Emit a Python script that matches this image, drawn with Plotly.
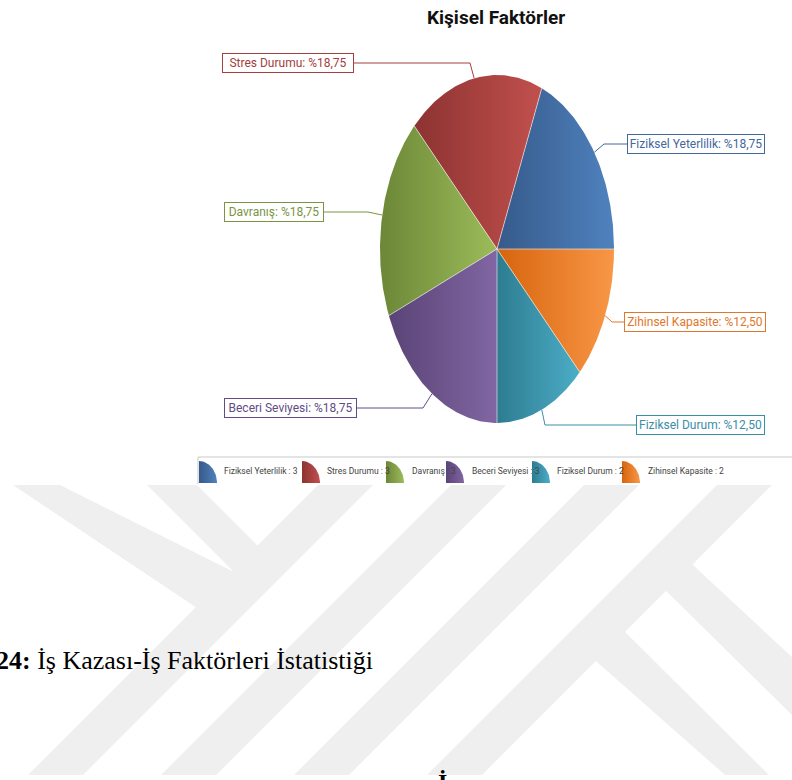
import numpy as np
import plotly.graph_objects as go

# ---- data -------------------------------------------------------------
labels = ["Fiziksel Yeterlilik", "Stres Durumu", "Davranış",
          "Beceri Seviyesi", "Fiziksel Durum", "Zihinsel Kapasite"]
values = [3, 3, 3, 3, 2, 2]

title_text = "Kişisel Faktörler"
caption_text = "<b>24:</b> İş Kazası-İş Faktörleri İstatistiği"

# ---- styling ----------------------------------------------------------
dark = ["#365a8a", "#8c3331", "#6c8737", "#5a4476", "#2d7c90", "#d8640d"]
light = ["#4f82be", "#c1504d", "#9cbc5a", "#8166a3", "#4cadc7", "#f89747"]
text_col = ["#43689b", "#a3403d", "#7a9444", "#634c86", "#3a8ea5", "#e0772a"]

SANS = "Roboto, Liberation Sans, sans-serif"
SERIF = "Liberation Serif, Times New Roman, serif"

W, H = 792, 780
CX, CY, RX, RY = 497, 249, 117, 174          # pie centre and radii (px)

# label layout: (elbow x, elbow y, box edge x, box width, side)
label_layout = [
    (604, 144, 627, 138, "right"),
    (470, 63, 354, 132, "left"),
    (368, 212, 324, 100, "left"),
    (423, 408, 357, 133, "left"),
    (545, 425, 636, 129, "right"),
    (612, 322, 624, 142, "right"),
]

# legend layout: icon left x, text left x
legend_icon_x = [199, 302, 386, 446, 532, 622]
legend_text_x = [222, 325, 410, 470, 555, 646]


def ellipse_pt(deg, cx=CX, cy=CY, rx=RX, ry=RY):
    t = np.radians(deg)
    return cx + rx * np.cos(t), cy - ry * np.sin(t)


fig = go.Figure()

# ---- watermark (light background logo) --------------------------------
WM = "#efefef"
TOP, BOT = 485, 775
wm_polys = []
for xl in [318, 451, 584, 717]:                 # long diagonal stripes
    d = BOT - TOP
    wm_polys.append([(xl, TOP), (xl + 55, TOP), (xl + 55 - d, BOT), (xl - d, BOT)])
wm_polys.append([(13, TOP), (60, TOP), (250, 580), (200, 610)])        # Y arm outer
wm_polys.append([(147, TOP), (197, TOP), (270, 558), (240, 578)])      # Y arm inner
wm_polys.append([(680, 553), (792, 657), (792, 715), (650, 575)])      # K upper arm
wm_polys.append([(612, 619), (769, BOT), (725, BOT), (580, 647)])      # K lower arm
for poly in wm_polys:
    path = "M " + " L ".join(f"{x},{y}" for x, y in poly) + " Z"
    fig.add_shape(type="path", path=path, xref="x", yref="y",
                  fillcolor=WM, line=dict(width=0), layer="below")

# ---- pie slices (elliptical) -------------------------------------------
total = float(sum(values))
bounds = np.concatenate([[0.0], np.cumsum(values)]) / total * 360.0

for i, name in enumerate(labels):
    a0, a1 = bounds[i], bounds[i + 1]
    th = np.linspace(a0, a1, 90)
    px, py = ellipse_pt(th)
    xs = np.concatenate([[CX], px, [CX]])
    ys = np.concatenate([[CY], py, [CY]])
    fig.add_trace(go.Scatter(
        x=xs, y=ys, mode="lines", fill="toself", line=dict(width=0),
        fillgradient=dict(type="horizontal",
                          colorscale=[[0, dark[i]], [1, light[i]]]),
        hoverinfo="text", text=f"{name}: {values[i]}", showlegend=False))

# slice separators
for a in bounds[:-1]:
    ex, ey = ellipse_pt(a)
    fig.add_trace(go.Scatter(x=[CX, ex], y=[CY, ey], mode="lines",
                             line=dict(color="rgba(255,255,255,0.55)", width=1),
                             hoverinfo="skip", showlegend=False))

# ---- leader lines and labels ------------------------------------------
for i, name in enumerate(labels):
    mid = (bounds[i] + bounds[i + 1]) / 2
    sx, sy = ellipse_pt(mid)
    ex, ey, bx, bw, side = label_layout[i]
    fig.add_trace(go.Scatter(x=[sx, ex, bx], y=[sy, ey, ey], mode="lines",
                             line=dict(color=text_col[i], width=1),
                             hoverinfo="skip", showlegend=False))
    pct = values[i] / total * 100
    txt = f"{name}: %{pct:.2f}".replace(".", ",")
    fig.add_annotation(x=bx, y=ey, xref="x", yref="y", text=txt,
                       showarrow=False,
                       xanchor="left" if side == "right" else "right",
                       yanchor="middle", width=bw - 6, align="center",
                       bgcolor="white", bordercolor=text_col[i],
                       borderwidth=1, borderpad=2,
                       font=dict(family=SANS, size=12, color=text_col[i]))

# ---- title ------------------------------------------------------------
fig.add_annotation(x=496, y=17, xref="x", yref="y", text=f"<b>{title_text}</b>",
                   showarrow=False, xanchor="center", yanchor="middle",
                   font=dict(family=SANS, size=19, color="#111111"))

# ---- legend strip -----------------------------------------------------
fig.add_shape(type="line", x0=198, x1=792, y0=457, y1=457, xref="x", yref="y",
              line=dict(color="#c9c9c9", width=1))
fig.add_shape(type="line", x0=198, x1=198, y0=457, y1=484, xref="x", yref="y",
              line=dict(color="#c9c9c9", width=1))
for i, name in enumerate(labels):
    ix = legend_icon_x[i]
    th = np.linspace(0, 90, 30)
    qx, qy = ellipse_pt(th, cx=ix, cy=483, rx=18, ry=22)
    fig.add_trace(go.Scatter(
        x=np.concatenate([[ix], qx, [ix]]), y=np.concatenate([[483], qy, [483]]),
        mode="lines", fill="toself", line=dict(width=0),
        fillgradient=dict(type="horizontal",
                          colorscale=[[0, dark[i]], [1, light[i]]]),
        hoverinfo="skip", showlegend=False))
    fig.add_annotation(x=legend_text_x[i], y=471, xref="x", yref="y",
                       text=f"{name} : {values[i]}", showarrow=False,
                       xanchor="left", yanchor="middle",
                       font=dict(family=SANS, size=8.5, color="#444444"))

# ---- caption ----------------------------------------------------------
fig.add_annotation(x=0, y=660, xref="x", yref="y", text=caption_text,
                   showarrow=False, xanchor="left", yanchor="middle", xshift=-6,
                   font=dict(family=SERIF, size=26, color="black"))
fig.add_annotation(x=442, y=767, xref="x", yref="y", text="<b>İ</b>",
                   showarrow=False, xanchor="center", yanchor="top",
                   font=dict(family=SERIF, size=24, color="black"))

fig.update_layout(
    width=W, height=H, margin=dict(l=0, r=0, t=0, b=0),
    paper_bgcolor="white", plot_bgcolor="white", showlegend=False,
    xaxis=dict(range=[0, W], visible=False, fixedrange=True),
    yaxis=dict(range=[H, 0], visible=False, fixedrange=True),
)

fig.write_html("out.html")
